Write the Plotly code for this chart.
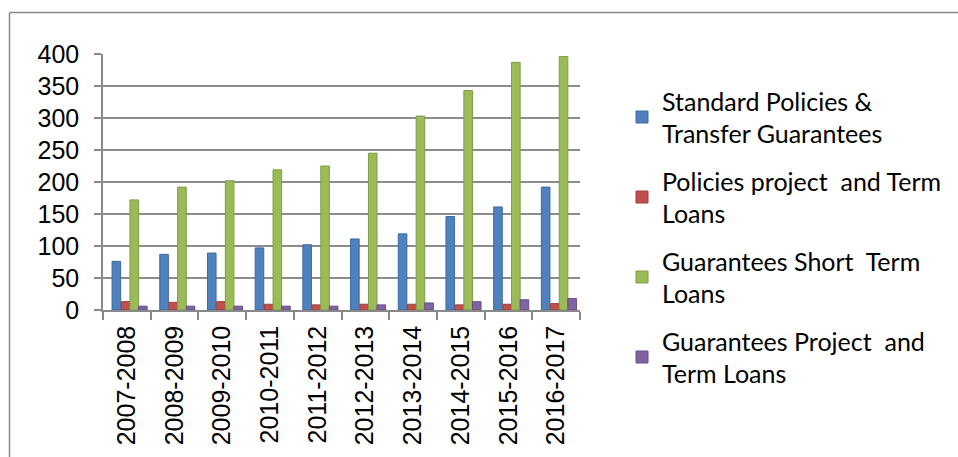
import plotly.graph_objects as go

categories = ["2007-2008", "2008-2009", "2009-2010", "2010-2011", "2011-2012",
              "2012-2013", "2013-2014", "2014-2015", "2015-2016", "2016-2017"]
standard_policies = [76, 87, 89, 97, 102, 111, 119, 146, 161, 192]
policies_project = [13, 12, 13, 9, 8, 9, 9, 8, 9, 10]
guarantees_short = [172, 192, 202, 219, 225, 245, 303, 343, 387, 396]
guarantees_project = [6, 6, 6, 6, 6, 8, 11, 13, 16, 18]

series_names = ["Standard Policies &<br>Transfer Guarantees",
                "Policies project  and Term<br>Loans",
                "Guarantees Short  Term<br>Loans",
                "Guarantees Project  and<br>Term Loans"]
series_values = [standard_policies, policies_project, guarantees_short, guarantees_project]
colors = ["#4F81BD", "#C0504D", "#9BBB59", "#8064A2"]
edge_colors = ["#3A6AA3", "#A33B38", "#7F9E42", "#664E87"]
bar_offsets = [-0.31, -0.115, 0.065, 0.245]
bar_width = 0.18
y_ticks = [0, 50, 100, 150, 200, 250, 300, 350, 400]

fig = go.Figure()
for i, (name, vals) in enumerate(zip(series_names, series_values)):
    fig.add_trace(go.Bar(
        x=categories, y=vals, name=name,
        width=bar_width, offset=bar_offsets[i],
        marker=dict(color=colors[i], line=dict(color=edge_colors[i], width=1)),
        legendgroup=str(i),
    ))

L, R, T, B = 103, 378, 54, 147
W, H = 958, 457
pw, ph = W - L - R, H - T - B

def px_x(p):
    return (p - L) / pw

def px_y(p):
    return (H - B - p) / ph

fig.update_layout(
    width=W, height=H,
    margin=dict(l=L, r=R, t=T, b=B, autoexpand=False),
    paper_bgcolor="white", plot_bgcolor="white",
    barmode="overlay",
    font=dict(family="Liberation Sans", size=25, color="black"),
    legend=dict(
        x=px_x(622), y=px_y(78), xanchor="left", yanchor="top",
        font=dict(family="Lato", size=25, color="black"),
        tracegroupgap=12, itemclick=False, maxheight=420,
        bgcolor="rgba(0,0,0,0)",
    ),
    xaxis=dict(
        showgrid=False, tickangle=-90, ticks="outside", tickson="boundaries",
        ticklen=8, tickcolor="#888888", tickwidth=1.5,
        showline=True, linecolor="#888888", linewidth=1.5,
        ticklabelstandoff=4,
        tickfont=dict(family="Liberation Sans", size=25, color="black"),
    ),
    yaxis=dict(
        range=[0, 400], tickvals=y_ticks, showgrid=True, gridcolor="#8c8c8c", gridwidth=2,
        ticks="outside", ticklen=7, tickcolor="#888888", tickwidth=1.5,
        showline=True, linecolor="#888888", linewidth=1.5,
        ticklabelstandoff=10, zeroline=False,
        tickfont=dict(family="Liberation Sans", size=25, color="black"),
    ),
    shapes=[
        dict(type="line", xref="paper", yref="paper",
             x0=px_x(9.5), x1=px_x(958), y0=px_y(12.5), y1=px_y(12.5),
             line=dict(color="#888888", width=1.5)),
        dict(type="line", xref="paper", yref="paper",
             x0=px_x(9.5), x1=px_x(9.5), y0=px_y(12.5), y1=px_y(457),
             line=dict(color="#888888", width=1.5)),
    ],
)

fig.write_html("out.html", config={"displayModeBar": False},
               post_script="document.body.style.margin='0';document.body.style.overflow='hidden';")
